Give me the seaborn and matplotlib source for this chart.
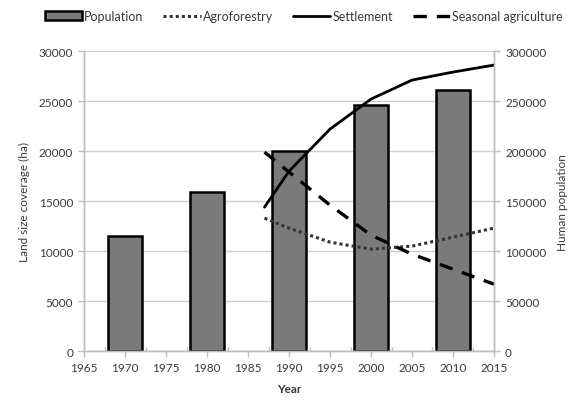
"""Land cover change vs human population, 1965-2015."""
import matplotlib
matplotlib.use("Agg")
import matplotlib.pyplot as plt
from matplotlib.lines import Line2D
from matplotlib.patches import Patch
import pandas as pd
import seaborn as sns

# Population bars (right axis)
pop_years = [1970, 1980, 1990, 2000, 2010]
population = [115000, 159000, 200000, 246000, 261000]

# Land cover lines (left axis, ha)
line_years = [1987, 1990, 1995, 2000, 2005, 2010, 2015]
agroforestry = [13300, 12300, 10900, 10200, 10500, 11400, 12300]
settlement = [14400, 18000, 22200, 25200, 27100, 27900, 28600]
seasonal_agri = [19900, 17900, 14600, 11600, 9700, 8200, 6700]

x_ticks = list(range(1965, 2016, 5))

sns.set_theme(style="white")
plt.rcParams["font.family"] = ["Lato", "DejaVu Sans"]
TXT = "#3a3a3a"
BAR = "#7a7a7a"

fig = plt.figure(figsize=(5.73, 4.10), dpi=100)
ax = fig.add_axes([0.147, 0.141, 0.715, 0.732])
ax2 = ax.twinx()

# bars go on the back axis, lines on the front one
ax.set_zorder(ax2.get_zorder() + 1)
ax.patch.set_visible(False)

pop_df = pd.DataFrame({"year": pop_years, "population": population})
sns.barplot(data=pop_df, x="year", y="population", native_scale=True,
            width=0.41, color=BAR, edgecolor="black", linewidth=1.8,
            saturation=1, ax=ax2)

land_df = pd.DataFrame({"year": line_years, "Agroforestry": agroforestry,
                        "Settlement": settlement,
                        "Seasonal agriculture": seasonal_agri})
sns.lineplot(data=land_df, x="year", y="Agroforestry", color="#333333",
             linestyle=(0, (1, 1)), linewidth=2.2, ax=ax)
sns.lineplot(data=land_df, x="year", y="Settlement", color="black",
             linewidth=2.0, ax=ax)
sns.lineplot(data=land_df, x="year", y="Seasonal agriculture", color="black",
             linestyle=(0, (4, 3)), linewidth=2.4, ax=ax)

ax.set_xlim(1965, 2015)
ax.set_ylim(0, 30000)
ax2.set_ylim(0, 300000)
ax.set_xticks(x_ticks)
ax.set_xticks([y + 2.5 for y in x_ticks[:-1]], minor=True)
ax.set_yticks(range(0, 30001, 5000))
ax2.set_yticks(range(0, 300001, 50000))

ax2.grid(axis="y", color="#cfcfcf", linewidth=1.0)
ax2.set_axisbelow(True)
ax.grid(False)

for a in (ax, ax2):
    a.spines["top"].set_visible(False)
    for side in ("left", "right", "bottom"):
        a.spines[side].set_color("#bdbdbd")
        a.spines[side].set_linewidth(1.0)
    a.tick_params(axis="both", which="both", colors="#bdbdbd",
                  labelcolor=TXT, labelsize=8.5, length=4, width=1.0,
                  direction="out")
ax.tick_params(axis="x", which="minor", length=3, direction="in", bottom=True)
ax.tick_params(axis="y", left=True, pad=4)
ax2.tick_params(axis="y", right=True, pad=4)
ax.tick_params(axis="x", bottom=True, pad=4)

ax.set_xlabel("Year", fontsize=8.5, fontweight="bold", color=TXT, labelpad=7)
ax.set_ylabel("Land size coverage (ha)", fontsize=8.5, color=TXT, labelpad=6)
ax2.set_ylabel("Human population", fontsize=8.5, color=TXT, rotation=90,
               labelpad=8)

handles = [
    Patch(facecolor=BAR, edgecolor="black", linewidth=1.8),
    Line2D([], [], color="#333333", linestyle=(0, (1, 1)), linewidth=2.2),
    Line2D([], [], color="black", linewidth=2.0),
    Line2D([], [], color="black", linestyle=(0, (4, 3)), linewidth=2.4),
]
labels = ["Population", "Agroforestry", "Settlement", "Seasonal agriculture"]
fig.legend(handles, labels, loc="center", bbox_to_anchor=(0.53, 0.958),
           ncol=4, frameon=False, fontsize=9, handlelength=3.0,
           handletextpad=0.15, columnspacing=1.6, labelcolor=TXT)

fig.savefig("out.png", dpi=100)
